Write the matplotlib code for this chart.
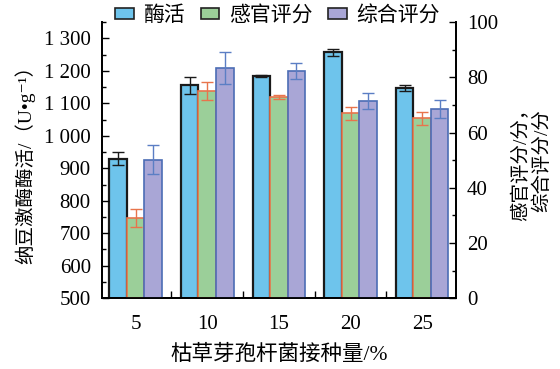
import matplotlib
matplotlib.use("Agg")
import matplotlib.pyplot as plt
import numpy as np
from matplotlib.ticker import MultipleLocator, FixedLocator
from matplotlib.patches import Patch

plt.rcParams['font.family'] = ['Liberation Serif', 'DejaVu Serif', 'Noto Sans CJK SC']
plt.rcParams['axes.unicode_minus'] = False

categories = ['5', '10', '15', '20', '25']
enzyme = [930, 1155, 1183, 1257, 1146]
enzyme_err = [21, 25, 3, 11, 9]
sensory = [29.1, 75.1, 73.0, 67.0, 65.2]
sensory_err = [3.3, 3.3, 0.7, 2.4, 2.4]
overall = [50.2, 83.4, 82.3, 71.3, 68.5]
overall_err = [5.2, 5.7, 2.8, 2.9, 3.3]
left_ticks = [500, 600, 700, 800, 900, 1000, 1100, 1200, 1300]
left_labels = ['500', '600', '700', '800', '900', '1 000', '1 100', '1 200', '1 300']
series_names = ['酶活', '感官评分', '综合评分']

fig = plt.figure(figsize=(5.6, 3.69), dpi=100)
ax = fig.add_axes([0.182, 0.192, 0.632, 0.748])
ax2 = ax.twinx()

x = np.arange(len(categories))
w = 0.245
c_blue, c_green, c_purp = '#6EC4EC', '#9BCF99', '#A9A6D6'
e_blue, e_green, e_purp = '#1a1a1a', '#E8744C', '#4C6DB5'

ax.bar(x - w, enzyme, w, color=c_blue, edgecolor=e_blue, linewidth=1.6)
ax.errorbar(x - w, enzyme, yerr=enzyme_err, fmt='none', ecolor=e_blue, elinewidth=1, capsize=4, capthick=1)
ax2.bar(x, sensory, w, color=c_green, edgecolor=e_green, linewidth=1.2)
ax2.errorbar(x, sensory, yerr=sensory_err, fmt='none', ecolor=e_green, elinewidth=1, capsize=4, capthick=1)
ax2.bar(x + w, overall, w, color=c_purp, edgecolor=e_purp, linewidth=1.2)
ax2.errorbar(x + w, overall, yerr=overall_err, fmt='none', ecolor='#5B7EC4', elinewidth=1, capsize=4, capthick=1)

ax.set_ylim(500, 1350)
ax2.set_ylim(0, 100)
ax.set_xlim(-0.47, 4.47)

ax.set_yticks(left_ticks)
ax.set_yticklabels(left_labels)
ax.yaxis.set_minor_locator(MultipleLocator(50))
ax2.yaxis.set_major_locator(MultipleLocator(20))
ax2.yaxis.set_minor_locator(MultipleLocator(10))
ax.set_xticks(x)
ax.set_xticklabels(categories)
ax.xaxis.set_minor_locator(FixedLocator(x[:-1] + 0.5))

for a in (ax, ax2):
    a.spines['top'].set_visible(False)
    for s in ('left', 'right', 'bottom'):
        a.spines[s].set_linewidth(1.3)
    a.tick_params(which='both', direction='in', labelsize=15, width=1)
    a.tick_params(which='major', length=5)
    a.tick_params(which='minor', length=3)
ax.tick_params(axis='x', which='major', length=0, pad=12)
ax.tick_params(axis='x', which='minor', length=5)
ax.tick_params(axis='y', pad=8)
ax2.tick_params(axis='y', pad=8)

ax.set_xlabel('枯草芽孢杆菌接种量/%', fontsize=15.5, labelpad=8)
ax.set_ylabel('纳豆激酶酶活/（U•g⁻¹）', fontsize=14, labelpad=6)
ax2.set_ylabel('感官评分/分，\n综合评分/分', fontsize=14, rotation=90, labelpad=10, linespacing=1.15)

handles = [Patch(facecolor=c, edgecolor='#222222', linewidth=1.2) for c in (c_blue, c_green, c_purp)]
fig.legend(handles=handles, labels=series_names, loc='upper center',
           bbox_to_anchor=(0.495, 1.035), ncol=3, frameon=False, fontsize=15,
           handlelength=0.9, handleheight=0.45, handletextpad=0.45, columnspacing=0.75)

fig.savefig('out.png', dpi=100)
